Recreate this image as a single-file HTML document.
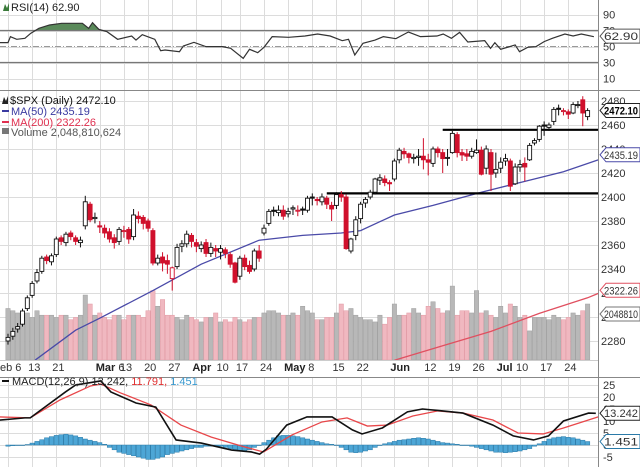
<!DOCTYPE html>
<html><head><meta charset="utf-8"><style>
html,body{margin:0;padding:0;background:#fff;}
svg{display:block;font-family:"Liberation Sans",sans-serif;}
</style></head><body>
<svg id="chart" width="640" height="467" viewBox="0 0 640 467" xmlns="http://www.w3.org/2000/svg"></svg>
<script>
// ---------- DATA ----------
const opens=[2280,2284,2290,2294,2307,2318,2330,2338,2350,2346,2352,2366,2362,2370,2366,2362,
2376,2394,2382,2376,2374,2371,2366,2363,2372,2373,2367,2384,2383,2380,2372,2345,2350,2347,2332,2342,2359,2361,2368,
2362,2357,2362,2353,2357,2354,2356,2352,2345,2334,2349,2343,2340,2355,2370,2378,2389,2387,2389,
2386,2390,2389,2390,2389,2400,2398,2396,2399,2393,2393,2402,2400,2355,2368,2382,2395,2400,2404,2414,2415,2412,
2415,2431,2438,2436,2432,2433,2434,2431,2428,2440,2437,2433,2437,2452,2437,2436,2434,2437,2439,2424,2437,2420,
2424,2430,2430,2411,2425,2428,2431,2445,2448,2460,2458,2463,2474,2472,2471,2470,2477,2481,2467];
const closes=[2283,2288,2292,2305,2316,2328,2337,2349,2347,2351,2365,2363,2369,2367,2363,2364,
2396,2381,2383,2375,2370,2365,2362,2373,2372,2365,2385,2382,2378,2374,2345,2349,2345,2344,2341,2358,2361,2369,2363,
2359,2360,2353,2358,2355,2357,2353,2344,2329,2349,2342,2338,2355,2349,2374,2388,2388,2389,2384,
2388,2391,2389,2389,2399,2399,2397,2400,2394,2390,2402,2400,2357,2365,2381,2394,2398,2404,2415,2416,2412,2411,
2430,2439,2436,2433,2433,2434,2431,2429,2440,2437,2432,2433,2453,2437,2435,2434,2438,2439,2419,2440,2419,2423,
2429,2432,2409,2425,2427,2425,2443,2447,2459,2459,2460,2473,2473,2472,2469,2477,2477,2470,2472];
const highs=[2286,2291,2295,2307,2318,2330,2340,2351,2352,2353,2367,2368,2371,2372,2368,2367,
2401,2396,2387,2380,2377,2374,2369,2375,2376,2375,2390,2388,2385,2382,2374,2352,2354,2352,2342,2361,2364,2372,2370,
2365,2363,2365,2362,2360,2360,2358,2354,2346,2351,2352,2347,2357,2360,2377,2390,2392,2393,2393,
2391,2393,2393,2392,2401,2403,2400,2403,2401,2396,2404,2405,2402,2366,2384,2396,2400,2406,2416,2419,2418,2414,
2432,2441,2441,2437,2436,2440,2449,2436,2442,2442,2440,2440,2455,2454,2440,2440,2441,2448,2442,2443,2440,2437,
2433,2436,2432,2428,2431,2433,2445,2449,2460,2463,2462,2475,2477,2474,2473,2479,2480,2484,2474];
const lows=[2277,2281,2287,2292,2305,2316,2328,2336,2344,2343,2350,2360,2359,2364,2360,2358,
2373,2379,2378,2370,2366,2362,2357,2360,2366,2361,2364,2378,2373,2371,2343,2343,2338,2336,2322,2340,2354,2358,2358,
2354,2354,2350,2350,2350,2348,2349,2341,2328,2331,2339,2336,2338,2346,2368,2376,2384,2384,2381,
2383,2385,2384,2385,2387,2393,2393,2393,2390,2380,2390,2396,2356,2353,2364,2378,2391,2398,2402,2410,2409,2405,
2413,2428,2432,2428,2428,2426,2423,2418,2425,2433,2420,2426,2436,2433,2430,2430,2432,2436,2418,2419,2405,2416,
2420,2426,2405,2410,2421,2413,2430,2443,2446,2451,2455,2460,2468,2468,2465,2469,2474,2459,2464];
const volumes=[2.3,2.2,2.1,2.0,2.1,1.9,2.2,2.0,2.0,2.0,1.9,2.0,2.0,1.8,1.9,2.0,
2.9,2.5,2.0,2.1,1.9,1.8,2.0,2.0,1.8,2.0,2.0,2.0,1.9,2.2,3.1,2.4,2.7,2.0,2.0,1.9,1.8,2.0,1.9,
1.8,1.7,1.9,1.9,2.1,1.7,1.8,1.7,1.9,1.8,1.7,1.8,1.9,1.9,2.1,2.2,2.2,2.1,2.0,
2.0,2.1,2.0,2.4,2.2,2.1,1.8,1.8,1.9,1.9,2.1,2.5,2.2,2.3,2.0,1.9,1.8,1.8,1.7,2.0,1.6,1.9,
2.5,2.0,2.0,2.1,2.3,2.1,2.0,2.4,2.6,2.3,2.1,2.2,3.3,2.0,2.2,2.2,2.1,3.1,2.1,2.2,2.0,1.9,
2.4,2.1,2.5,2.4,1.9,2.0,1.3,1.9,1.9,1.9,1.8,2.0,1.9,1.8,1.9,2.1,2.0,2.2,2.5];
const ma50Idx=[5.6,14,19,30,40,52,61,69,73,80,88,98,107,115,123];
const ma50Val=[2264,2289,2299,2322,2344,2364,2368,2370,2372,2385,2393,2404,2413,2421,2432];
const ma200Idx=[80,90,100,110,120,123];
const ma200Val=[2264,2276,2288,2303,2316,2321];
const levelStart=[66,90];
const levelValue=[2403,2456];
const rsiIdx=[-1.7,0,0.5,1.8,3.5,4.7,6.4,8.6,11.1,15.4,16.7,17.5,18.8,20.5,22.7,25.6,26.5,27.8,30.4,31.6,32.5,35.5,36.3,38.5,41,44.4,46.1,48.7,50,51.7,53,54.7,58.1,61.5,64.1,66.7,69.2,70.5,71.8,73.5,76,77.7,80.3,82.9,85.4,88.8,90.1,91.8,93.5,95.2,98.7,99.9,100.8,102,105,105.9,107.6,109.3,111,112.7,115.3,117,118.7,121.3];
const rsiVal=[54.8,54.8,62.3,59,60.2,66.5,72.7,76.9,79,79,72.7,79.8,71.5,68.5,59,63.1,58.1,64.8,59,44.8,45.6,43.5,50.6,55.2,49.8,49.8,47.7,35.2,46.5,42.3,49,62.3,61.5,63.1,65.6,63.1,57.3,59,39.4,54,58.1,62.3,59.8,68.1,62.3,63.1,65.6,60.2,67.7,55.6,57.3,47.7,54.8,46.5,51.9,43.5,49,49.8,56.1,60.2,65.6,63.1,65.6,62.3];
const macdIdx=[-1.7,3.5,4.6,11.9,14,19.2,21.3,26.5,30.6,34.8,40,46.3,50.4,52.1,53.5,57.7,61.9,67.1,71.3,73.3,77.5,82.7,85.8,90,94.2,100.4,104.6,108.8,111.9,115,120.2,121.7];
const macdVal=[10.4,11.3,11.3,22.1,25,26.7,22.1,17.5,15.8,2.1,0.8,-2.1,-2.9,-3.8,-1.7,8.3,11.7,11.7,6.3,4.6,7.1,13.8,15,14.2,13.3,8.3,3.8,2.1,3.8,10,13.3,13.2];
const sigIdx=[-1.7,4.6,10.8,17.1,19.2,23.3,29.6,35.8,42.1,48.3,52.9,58.8,65,70.2,74.4,78.5,83.8,89,94.2,100.4,105.6,110.8,115,122.3];
const sigVal=[11.7,11.3,18.8,24.6,25.4,21.7,16.7,8.3,3.3,-0.4,-2.9,4.2,9.6,11.3,7.9,8.3,12.1,14.2,13.3,10.4,5,4.6,7.1,11.8];
const hist=[-0.5,-0.3,0,0,0.2, 0.8,1.5,2.2,3,3.5,4, 4.3,4.5,4.2,3.8,3.2,2.5, 2,1.5,1,0.3,
-1,-2,-3,-3.5,-4,-4.5,-5,-5.5,-6,-6,-5.5,-5,-4,-3.5,-3,-2.5,
-2,-1.5,-1,-1,-0.5,-0.5,-0.3,-0.5,-1,-1.5,-2,-2.5, -2.5,-2,-1,0,1,
2,3,3.8,4,4,3.8,3.5,3,2.5,2,1.5,1,0.5,0.3, 0,-1,-2,-3,-3.2,-3,-2.5,-2,-1,
0,0.5,1,1.5,2,2.2,2.5,2.8,3,2.8,2.5,2,1.5,1,0.8,0.5,0.3,0,0,
-0.5,-1,-1.5,-2,-2.5,-3,-3,-3.2,-3,-2.8,-2.5,-2,-1.5, -0.5,0.5,1.5,2.5,3,3.3,3.5,3.2,3,2.5,2,1.45];
const priceTicks=[2280,2300,2320,2340,2360,2380,2400,2420,2440,2460,2480];
const rsiTicks=[90,70,50,30,10];
const macdTicks=[25,20,15,10,5,0,-5];
const dateIdx=[0,5,10,19,24,29,34,39,44,48,53,58,63,68,73,80,87,92,97,102,106,111,116];
const dateLabels=["eb 6","13","21","Mar 6","13","20","27","Apr","10","17","24","May","8","15","22","Jun","12","19","26","Jul","10","17","24"];

// ---------- SCALES ----------
const PW=598;
const X=i=>8+i*4.83;
const PY=v=>197-(v-2400)*1.2;
const RY=v=>30.5+(70-v)*0.8;
const MY=v=>445-v*2.4;
const VY=v=>360-v*22.4;
const svg=document.getElementById('chart');
const NS='http://www.w3.org/2000/svg';
function mk(tag,attrs,parent){const e=document.createElementNS(NS,tag);for(const k in attrs)e.setAttribute(k,attrs[k]);(parent||svg).appendChild(e);return e;}
function txt(s,x,y,attrs,parent){const e=mk('text',Object.assign({x:x,y:y,'font-size':11,fill:'#333'},attrs),parent);e.textContent=s;return e;}

// clip
const defs=mk('defs',{});
const cp=mk('clipPath',{id:'pc'},defs);mk('rect',{x:0,y:91,width:PW,height:270},cp);
const cr=mk('clipPath',{id:'rc'},defs);mk('rect',{x:0,y:0,width:PW,height:90},cr);
const cm=mk('clipPath',{id:'mc'},defs);mk('rect',{x:0,y:378,width:PW,height:89},cm);

// grids
const grid=mk('g',{stroke:'#dcdcdc','stroke-width':1});


dateIdx.forEach(i=>{const x=Math.round(X(i))+0.5;mk('line',{x1:x,x2:x,y1:0,y2:90},grid);mk('line',{x1:x,x2:x,y1:91,y2:360},grid);mk('line',{x1:x,x2:x,y1:378,y2:467},grid);});
priceTicks.forEach(v=>{const y=Math.round(PY(v))+0.5;mk('line',{x1:0,x2:PW,y1:y,y2:y},grid);});
rsiTicks.forEach(v=>{const y=Math.round(RY(v))+0.5;mk('line',{x1:0,x2:PW,y1:y,y2:y},grid);});
macdTicks.forEach(v=>{const y=Math.round(MY(v))+0.5;mk('line',{x1:0,x2:PW,y1:y,y2:y},grid);});

// ---------- RSI ----------
const rg=mk('g',{'clip-path':'url(#rc)'});


// fill above 70
let fp='';
for(let k=0;k<rsiIdx.length-1;k++){
  const a=rsiVal[k],b=rsiVal[k+1];
  if(a>70||b>70){
    const x1=X(rsiIdx[k]),x2=X(rsiIdx[k+1]);
    let sx=x1,ex=x2,sa=Math.max(a,70),sb=Math.max(b,70);
    if(a<70){sx=x1+(x2-x1)*(70-a)/(b-a);}
    if(b<70){ex=x1+(x2-x1)*(70-a)/(b-a);}
    fp+=`M${sx},${RY(70)}L${sx},${RY(sa)}L${ex},${RY(sb)}L${ex},${RY(70)}Z`;
  }
}
const rf=mk('path',{d:fp,fill:'#5a8a5a',stroke:'none'},rg);


[70,30].forEach(v=>mk('line',{x1:0,x2:PW,y1:RY(v),y2:RY(v),stroke:'#777','stroke-width':1.2},rg));
mk('line',{x1:0,x2:PW,y1:RY(50),y2:RY(50),stroke:'#999','stroke-width':1,'stroke-dasharray':'6,2,1,2'},rg);
const rl=mk('polyline',{points:rsiIdx.map((i,k)=>X(i)+','+RY(rsiVal[k])).join(' '),fill:'none',stroke:'#333','stroke-width':1.2},rg);



// ---------- VOLUME ----------
const vg=mk('g',{'clip-path':'url(#pc)'});


volumes.forEach((v,i)=>{
  const down=i>0&&closes[i]<closes[i-1];
  const r=mk('rect',{x:X(i)-2.2,y:VY(v),width:4.4,height:360-VY(v),fill:down?'#f0b8c0':'#b8b8b8',stroke:down?'#e29aa4':'#a0a0a0','stroke-width':0.5},vg);
  
  
});

// ---------- MAs ----------
const pg=mk('g',{'clip-path':'url(#pc)'});
const m50=mk('polyline',{points:ma50Idx.map((i,k)=>X(i)+','+PY(ma50Val[k])).join(' '),fill:'none',stroke:'#4a4aa8','stroke-width':1.3},pg);


const m200=mk('polyline',{points:ma200Idx.map((i,k)=>X(i)+','+PY(ma200Val[k])).join(' '),fill:'none',stroke:'#e05060','stroke-width':1.3},pg);



// support/resistance
levelValue.forEach((v,k)=>{
  const l=mk('line',{x1:X(levelStart[k]),x2:PW,y1:PY(v),y2:PY(v),stroke:'#000','stroke-width':2.2},pg);
  
  
});

// candles
closes.forEach((c,i)=>{
  const o=opens[i];
  const down=i>0&&c<closes[i-1];
  const col=down?'#d0102c':'#111';
  const g=mk('g',{},pg);
  
  
  const x=X(i);
  mk('line',{x1:x,x2:x,y1:PY(highs[i]),y2:PY(lows[i]),stroke:col,'stroke-width':1},g);
  const top=PY(Math.max(o,c)),bot=PY(Math.min(o,c));
  const hollow=c>=o;
  mk('rect',{x:x-2,y:top,width:4,height:Math.max(1,bot-top),fill:hollow?'#fff':col,stroke:col,'stroke-width':0.9},g);
});

// ---------- MACD ----------
const mg=mk('g',{'clip-path':'url(#mc)'});


hist.forEach((h,i)=>{
  const y0=MY(0),y1=MY(h);
  const r=mk('rect',{x:X(i)-2.2,y:Math.min(y0,y1),width:4.4,height:Math.max(0.5,Math.abs(y1-y0)),fill:'#4da6d6',stroke:'#2a7aa8','stroke-width':0.5},mg);
  
  
});
const sl=mk('polyline',{points:sigIdx.map((i,k)=>X(i)+','+MY(sigVal[k])).join(' '),fill:'none',stroke:'#e8474a','stroke-width':1.3},mg);


const ml=mk('polyline',{points:macdIdx.map((i,k)=>X(i)+','+MY(macdVal[k])).join(' '),fill:'none',stroke:'#111','stroke-width':1.6},mg);



// ---------- borders ----------
const bd=mk('g',{stroke:'#888','stroke-width':1,fill:'none'});
mk('line',{x1:PW+0.5,x2:PW+0.5,y1:0,y2:467},bd);
mk('line',{x1:0,x2:640,y1:90.5,y2:90.5},bd);
mk('line',{x1:0,x2:640,y1:377.5,y2:377.5},bd);
mk('line',{x1:0,x2:PW,y1:360.5,y2:360.5,stroke:'#ccc'},bd);

// ---------- axis labels ----------
const ax=mk('g',{});


rsiTicks.forEach(v=>txt(String(v),603,RY(v)+4,{},ax));
priceTicks.forEach(v=>txt(String(v),601,PY(v)+4,{},ax));
macdTicks.forEach(v=>txt(String(v),603,MY(v)+4,{},ax));
dateIdx.forEach((i,k)=>{
  const s=dateLabels[k];const x=k===0?0:X(i)-4;
  const t=mk('text',{x:x,y:371,'font-size':11,fill:'#333'},ax);
  const parts=s.split(' ');
  if(isNaN(parseInt(parts[0]))&&parts[0]!=='eb'){
    const b=mk('tspan',{'font-weight':'bold',fill:'#222'},t);b.textContent=parts[0];
    if(parts[1]){const t2=mk('tspan',{},t);t2.textContent=' '+parts[1];}
  } else t.textContent=s;
});

// value boxes
function box(label,y,color,bold,name){
  const g=mk('g',{});
  
  
  mk('path',{d:`M600,${y} L606,${y-7} L640,${y-7} L640,${y+7} L606,${y+7} Z`,fill:'#fff',stroke:color,'stroke-width':1},g);
  txt(label,604,y+4,{fill:bold?'#000':'#333','font-weight':bold?'bold':'normal','font-size':bold?11:11,textLength:34,lengthAdjust:'spacingAndGlyphs'},g);
}
box('62.90',RY(62.9),'#555',false,'rsi-value-box');
box('2472.10',PY(2472.1),'#222',true,'price-value-box');
box('2435.19',PY(2435.19),'#4a4aa8',false,'ma50-value-box');
box('2322.26',PY(2322.26),'#e05060',false,'ma200-value-box');
box('2048810',314,'#777',false,'volume-value-box');
box('13.242',MY(13.242),'#222',false,'macd-value-box');
box('1.451',MY(1.451),'#2a7aa8',false,'histogram-value-box');

// ---------- legends ----------
const lg=mk('g',{});


mk('path',{d:'M3,11 L5,4 L7,8 L9,3 L9,11 Z',fill:'#3a7a3a'},lg);
txt('RSI(14) 62.90',11,11,{fill:'#222'},lg);
mk('path',{d:'M2,104 L4,97 L6,101 L8,96 L8,104 Z',fill:'#222'},lg);
txt('$SPX (Daily) 2472.10',10,104,{fill:'#111'},lg);
mk('line',{x1:2,x2:9,y1:111,y2:111,stroke:'#3a3aa0','stroke-width':2},lg);
txt('MA(50) 2435.19',11,115,{fill:'#3a3aa0'},lg);
mk('line',{x1:2,x2:9,y1:122,y2:122,stroke:'#e03050','stroke-width':2},lg);
txt('MA(200) 2322.26',11,126,{fill:'#e03050'},lg);
mk('rect',{x:2,y:128,width:7,height:6,fill:'#777'},lg);
txt('Volume 2,048,810,624',11,136,{fill:'#555'},lg);
mk('line',{x1:2,x2:9,y1:381,y2:381,stroke:'#111','stroke-width':2},lg);
const mt=mk('text',{x:12,y:385,'font-size':11,fill:'#222'},lg);
const s1=mk('tspan',{},mt);s1.textContent='MACD(12,26,9) 13.242, ';
const s2=mk('tspan',{fill:'#e03030'},mt);s2.textContent='11.791, ';
const s3=mk('tspan',{fill:'#3a9ad0'},mt);s3.textContent='1.451';
</script>
</body></html>
